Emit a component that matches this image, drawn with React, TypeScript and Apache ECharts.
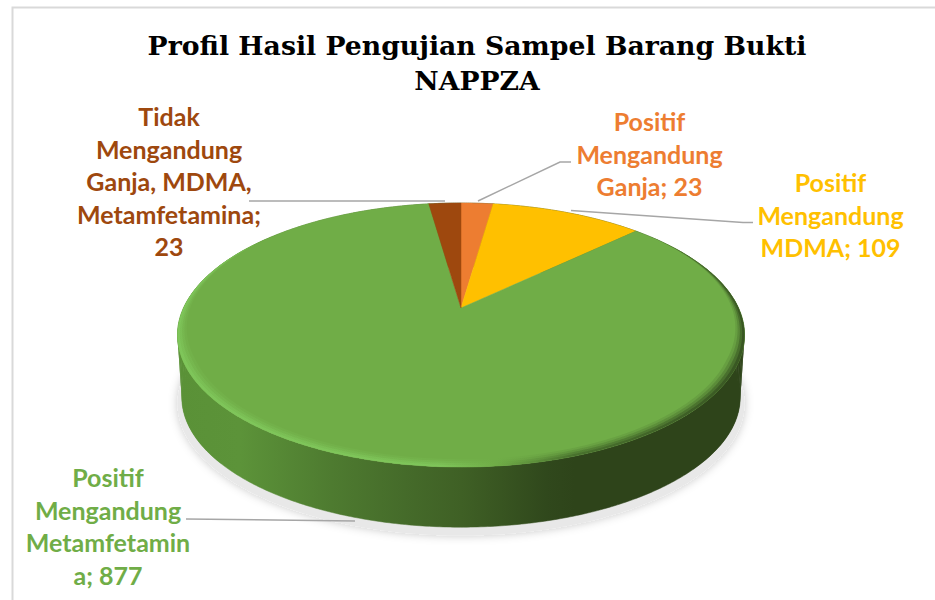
import React, { useEffect, useRef } from "react";
import * as echarts from "echarts";

const titleText = "Profil Hasil Pengujian Sampel Barang Bukti\nNAPPZA";
const categories = ["Positif\nMengandung\nGanja", "Positif\nMengandung\nMDMA", "Positif\nMengandung\nMetamfetamin\na", "Tidak\nMengandung\nGanja, MDMA,\nMetamfetamina"];
const valueSeparators = ["; ", "; ", "; ", ";\n"];
const values = [23, 109, 877, 23];
const sliceColors = ["#ED7D31", "#FFC000", "#70AD47", "#9E480E"];

// layout of the hand-placed callouts (same order as categories)
const labelAnchors = [[649.5, 105], [830.5, 166], [108, 461], [169, 100]];
const leaders = [
  [[478, 201], [560, 162], [571, 162]],
  [[571, 210.5], [743, 222.5], [753, 222.5]],
  [[186, 519], [355, 521]],
  [[249, 201], [445, 201]],
];

const total = values.reduce((a, b) => a + b, 0);
const CX = 461, CY = 308, A = 277.5, B = 126.5, K = 0.2047;
const DEPTH = 62.5, BASE_SCALE = 0.985;

function project(theta: number, r: number, dy = 0, scale = 1) {
  const u = Math.sin(theta) * r;
  const v = -Math.cos(theta) * r;
  const w = 1 - K * v;
  return [CX + (A * scale * u) / w, CY + dy + (B * scale * v) / w];
}
function sliceAngles(i: number) {
  let s = 0;
  for (let j = 0; j < i; j++) s += values[j];
  return [(s / total) * Math.PI * 2, ((s + values[i]) / total) * Math.PI * 2];
}
function arc(a0: number, a1: number, fn: (t: number) => number[]) {
  const n = Math.max(2, Math.ceil((a1 - a0) / 0.01));
  const pts: number[][] = [];
  for (let i = 0; i <= n; i++) pts.push(fn(a0 + ((a1 - a0) * i) / n));
  return pts;
}
const hGrad = (stops: [number, string][]) => ({
  type: "linear", x: 178, y: 0, x2: 745, y2: 0, global: true,
  colorStops: stops.map(([offset, color]) => ({ offset, color })),
});
const wallFill = hGrad([
  [0, "#5A9137"], [0.11, "#5C9339"], [0.27, "#4E7B30"], [0.4, "#456B2A"],
  [0.5, "#3F6025"], [0.65, "#30481C"], [0.7, "#2E441A"], [1, "#2E441A"],
]);
const rimFill = (alpha: number) => hGrad([
  [0, `rgba(128,200,92,${alpha})`], [0.46, `rgba(128,200,92,${alpha})`],
  [0.56, `rgba(112,173,71,${alpha})`], [0.7, `rgba(68,106,42,${alpha})`],
  [1, `rgba(50,76,30,${alpha})`],
]);

function renderBase(params: any) {
  const [a0, a1] = sliceAngles(params.dataIndex);
  const pts = arc(a0, a1, (t) => project(t, 1, DEPTH + 6, 1));
  pts.push([CX, CY + DEPTH + 6]);
  return {
    type: "polygon", silent: true,
    shape: { points: pts },
    style: { fill: "#E8E8E8", shadowBlur: 10, shadowColor: "rgba(0,0,0,0.22)" },
  };
}
function renderWall(params: any) {
  const [a0, a1] = sliceAngles(params.dataIndex);
  const top = arc(a0, a1, (t) => project(t, 1));
  const bottom = arc(a0, a1, (t) => project(t, 1, DEPTH, BASE_SCALE));
  const children: any[] = [{
    type: "polygon",
    shape: { points: top.concat(bottom.slice().reverse()) },
    style: { fill: wallFill, stroke: wallFill, lineWidth: 0.5 },
  }];
  // short quads where the wall forms the silhouette, so its outline runs straight down
  const step = 4;
  for (let j = 0; j + step < top.length; j += step) {
    const mid = a0 + ((a1 - a0) * j) / (top.length - 1);
    if (Math.abs(Math.sin(mid)) < 0.75) continue;
    children.push({
      type: "polygon",
      shape: { points: [top[j], top[j + step], bottom[j + step], bottom[j]] },
      style: { fill: wallFill },
    });
  }
  return { type: "group", silent: true, children };
}
function renderFace(params: any, api: any) {
  const i = params.dataIndex;
  const [a0, a1] = sliceAngles(i);
  const color = api.visual("color");
  const pts = arc(a0, a1, (t) => project(t, 1));
  pts.push([CX, CY]);
  const children: any[] = [{
    type: "polygon", shape: { points: pts },
    style: { fill: color, stroke: color, lineWidth: 0.5 },
  }];
  // soft bevel on the near rim
  const inset = (t: number, w: number) => 1 - w * Math.min(1, Math.max(0, -Math.cos(t) + 0.6));
  const bands: [number, number][] = [[0.04, 0.15], [0.03, 0.25], [0.02, 0.45], [0.01, 0.7]];
  if (a1 - a0 > 1) {
    bands.forEach(([w, alpha]) => {
      const outer = arc(a0, a1, (t) => project(t, 1));
      const inner = arc(a0, a1, (t) => project(t, inset(t, w))).reverse();
      children.push({
        type: "polygon", shape: { points: outer.concat(inner) },
        style: { fill: rimFill(alpha) },
      });
    });
  }
  return { type: "group", silent: true, children };
}
function renderLabel(params: any, api: any) {
  const i = params.dataIndex;
  const leader = leaders[i];
  return {
    type: "group", silent: true,
    children: [
      {
        type: "polyline", shape: { points: leader },
        style: { stroke: "#A6A6A6", lineWidth: 1.5, fill: "none" },
      },
      {
        type: "text", x: labelAnchors[i][0], y: labelAnchors[i][1],
        style: {
          text: `${categories[i]}${valueSeparators[i]}${api.value(0)}`,
          fill: sliceColors[i],
          font: "bold 25px Lato",
          lineHeight: 32.5,
          align: "center", verticalAlign: "top",
        },
      },
    ],
  };
}

export default function App() {
  const ref = useRef<HTMLDivElement>(null);
  useEffect(() => {
    const chart = echarts.init(ref.current!, null, { renderer: "svg" });
    const data = values.map((value, i) => ({
      name: categories[i], value, itemStyle: { color: sliceColors[i] },
    }));
    const custom = (z: number, renderItem: any) => ({
      type: "custom", coordinateSystem: "none", z, data,
      encode: { value: 0 }, renderItem, silent: true,
    });
    chart.setOption({
      animation: false,
      backgroundColor: "#FFFFFF",
      title: {
        text: titleText, left: 472, top: 23, textAlign: "center",
        textStyle: { fontFamily: "DejaVu Serif", fontWeight: "bold", fontSize: 26.7, lineHeight: 35, color: "#000000" },
      },
      graphic: [{
        type: "polyline", z: 0, silent: true,
        shape: { points: [[12.5, 600], [12.5, 7.5], [935, 7.5]] },
        style: { stroke: "#D9D9D9", lineWidth: 2, fill: "none" },
      }],
      series: [
        custom(1, renderBase),
        custom(2, renderWall),
        custom(3, renderFace),
        custom(4, renderLabel),
      ],
    });
    return () => chart.dispose();
  }, []);
  return <div ref={ref} style={{ position: "absolute", left: 0, top: 0, width: 935, height: 600 }} />;
}
